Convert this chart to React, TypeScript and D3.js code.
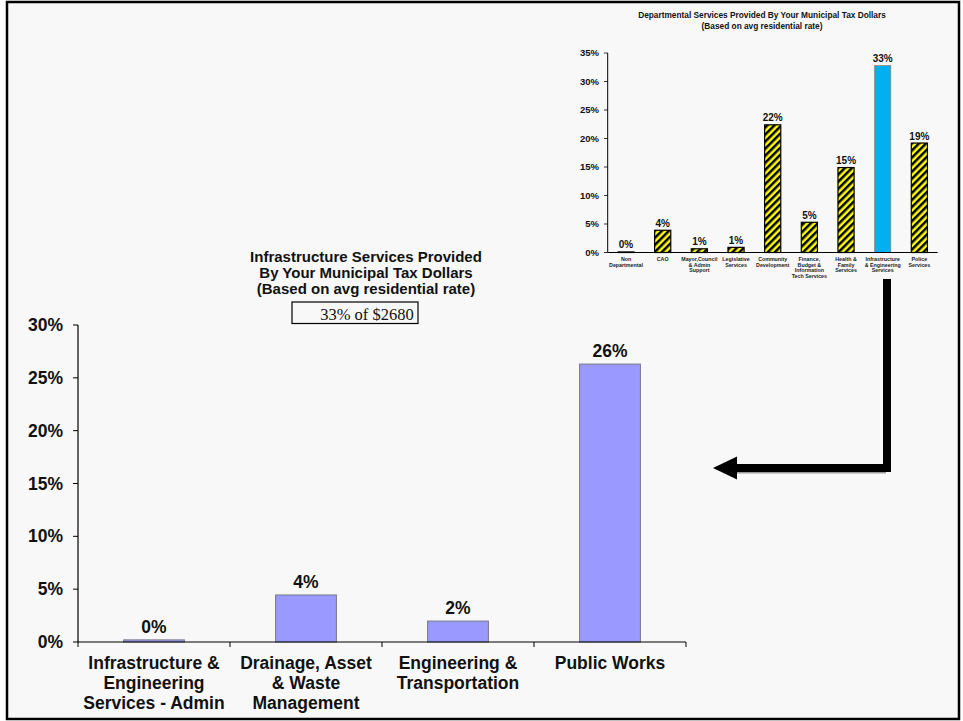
import React from "react";
import * as d3 from "d3";

// Infrastructure breakdown (main chart)
const infraCategories = [
  ["Infrastructure &", "Engineering", "Services - Admin"],
  ["Drainage, Asset", "& Waste", "Management"],
  ["Engineering &", "Transportation"],
  ["Public Works"],
];
const infraValues = [0.002, 0.0445, 0.0198, 0.263];
const infraTicks = [0, 0.05, 0.1, 0.15, 0.2, 0.25, 0.3];

// Department breakdown (inset chart)
const deptCategories = [
  ["Non", "Departmental"],
  ["CAO"],
  ["Mayor,Council", "& Admin", "Support"],
  ["Legislative", "Services"],
  ["Community", "Development"],
  ["Finance,", "Budget &", "Information", "Tech Services"],
  ["Health &", "Family", "Services"],
  ["Infrastructure", "& Engineering", "Services"],
  ["Police", "Services"],
];
const deptValues = [0.001, 0.039, 0.0065, 0.009, 0.224, 0.053, 0.149, 0.328, 0.192];
const deptHighlight = 7;
const deptTicks = [0, 0.05, 0.1, 0.15, 0.2, 0.25, 0.3, 0.35];

const titleLines = [
  "Infrastructure Services Provided",
  "By Your Municipal Tax Dollars",
  "(Based on avg residential rate)",
];
const insetTitleLines = [
  "Departmental Services Provided By Your Municipal Tax Dollars",
  "(Based on avg residential rate)",
];
const shareLabel = "33% of $2680";

const SANS = "'Liberation Sans', Arial, Helvetica, sans-serif";
const SERIF = "'Liberation Serif', 'Times New Roman', serif";
const pct = d3.format(".0%");

export default function App() {
  const W = 963;
  const H = 721;

  // main chart scales
  const x = d3
    .scaleBand<number>()
    .domain(d3.range(infraValues.length))
    .range([78, 686])
    .paddingInner(0.6)
    .paddingOuter(0.3);
  const y = d3.scaleLinear().domain([0, 0.3]).range([642, 325]);

  // inset chart scales
  const xi = d3
    .scaleBand<number>()
    .domain(d3.range(deptValues.length))
    .range([607.7, 937.7])
    .paddingInner(0.56)
    .paddingOuter(0.28);
  const yi = d3.scaleLinear().domain([0, 0.35]).range([252.5, 53]);

  const catStep = x.step();

  return (
    <svg
      width={W}
      height={H}
      style={{ position: "absolute", left: 0, top: 0, display: "block" }}
      fontFamily={SANS}
    >
      <defs>
        <pattern
          id="hazard"
          width={5}
          height={5}
          patternUnits="userSpaceOnUse"
          patternTransform="rotate(45)"
        >
          <rect width={5} height={5} fill="#ffff00" />
          <rect width={2.5} height={5} fill="#000" />
        </pattern>
      </defs>

      <rect x={0} y={0} width={W} height={H} fill="#fff" />
      <rect x={7} y={2} width={952} height={717} fill="#f8f8f8" stroke="#000" strokeWidth={2.5} />

      {/* ---------- inset chart ---------- */}
      <g>
        {insetTitleLines.map((t, i) => (
          <text
            key={i}
            x={762}
            y={18 + i * 10.5}
            textAnchor="middle"
            fontSize={8.3}
            fontWeight="bold"
            fill="#111"
          >
            {t}
          </text>
        ))}
        {deptTicks.map((t) => (
          <g key={t}>
            <line x1={604} x2={607.7} y1={yi(t)} y2={yi(t)} stroke="#000" strokeWidth={0.8} />
            <text
              x={599}
              y={yi(t)}
              dy="0.35em"
              textAnchor="end"
              fontSize={9.5}
              fontWeight="bold"
              fill="#111"
            >
              {pct(t)}
            </text>
          </g>
        ))}
        {deptValues.map((v, i) => (
          <g key={i}>
            <rect
              x={xi(i)}
              y={yi(v)}
              width={xi.bandwidth()}
              height={yi(0) - yi(v)}
              fill={i === deptHighlight ? "#00b0f0" : "url(#hazard)"}
              stroke={i === deptHighlight ? "#888" : "#000"}
              strokeWidth={i === deptHighlight ? 0.8 : 1.2}
            />
            <text
              x={(xi(i) as number) + xi.bandwidth() / 2}
              y={yi(v) - 3.5}
              textAnchor="middle"
              fontSize={10}
              fontWeight="bold"
              fill="#111"
            >
              {pct(v)}
            </text>
            {deptCategories[i].map((line, j) => (
              <text
                key={j}
                x={(xi(i) as number) + xi.bandwidth() / 2}
                y={260.7 + j * 5.8}
                textAnchor="middle"
                fontSize={5.3}
                fontWeight="bold"
                fill="#222"
              >
                {line}
              </text>
            ))}
          </g>
        ))}
        <line x1={607.7} x2={607.7} y1={yi(0.35)} y2={yi(0)} stroke="#000" strokeWidth={1} />
        <line x1={607.7} x2={937.7} y1={yi(0)} y2={yi(0)} stroke="#000" strokeWidth={1} />
      </g>

      {/* ---------- connector arrow ---------- */}
      <g>
        <rect x={736} y={472} width={150} height={1.5} fill="#999" />
        <rect x={883} y={279} width={8} height={193} fill="#000" />
        <rect x={735} y={464} width={156} height={8} fill="#000" />
        <polygon points="713,468 737,456.5 737,479.5" fill="#000" />
      </g>

      {/* ---------- main chart ---------- */}
      <g>
        {titleLines.map((t, i) => (
          <text
            key={i}
            x={366}
            y={262.3 + i * 16}
            textAnchor="middle"
            fontSize={15}
            fontWeight="bold"
            fill="#111"
          >
            {t}
          </text>
        ))}
        <rect x={292} y={302} width={126} height={21.5} fill="#f8f8f8" stroke="#000" strokeWidth={1.2} />
        <text x={367} y={319.5} textAnchor="middle" fontSize={16.5} fontFamily={SERIF} fill="#111">
          {shareLabel}
        </text>

        {infraTicks.map((t) => (
          <g key={t}>
            <line x1={73} x2={78} y1={y(t)} y2={y(t)} stroke="#000" strokeWidth={1} />
            <text
              x={63}
              y={y(t)}
              dy="0.35em"
              textAnchor="end"
              fontSize={17.5}
              fontWeight="bold"
              fill="#111"
            >
              {pct(t)}
            </text>
          </g>
        ))}

        {infraValues.map((v, i) => {
          const cx = (x(i) as number) + x.bandwidth() / 2;
          return (
            <g key={i}>
              <rect
                x={x(i)}
                y={y(v)}
                width={x.bandwidth()}
                height={y(0) - y(v)}
                fill="#9999ff"
                stroke="#777788"
                strokeWidth={1}
              />
              <text
                x={cx}
                y={y(v) - 7}
                textAnchor="middle"
                fontSize={17.5}
                fontWeight="bold"
                fill="#111"
              >
                {pct(v)}
              </text>
              {infraCategories[i].map((line, j) => (
                <text
                  key={j}
                  x={cx}
                  y={669 + j * 20}
                  textAnchor="middle"
                  fontSize={17.5}
                  fontWeight="bold"
                  fill="#111"
                >
                  {line}
                </text>
              ))}
            </g>
          );
        })}

        {d3.range(infraValues.length + 1).map((i) => (
          <line
            key={i}
            x1={78 + i * catStep}
            x2={78 + i * catStep}
            y1={642}
            y2={647}
            stroke="#000"
            strokeWidth={1}
          />
        ))}
        <line x1={78} x2={78} y1={325} y2={642} stroke="#000" strokeWidth={1.2} />
        <line x1={78} x2={686} y1={642} y2={642} stroke="#000" strokeWidth={1.2} />
      </g>
    </svg>
  );
}
